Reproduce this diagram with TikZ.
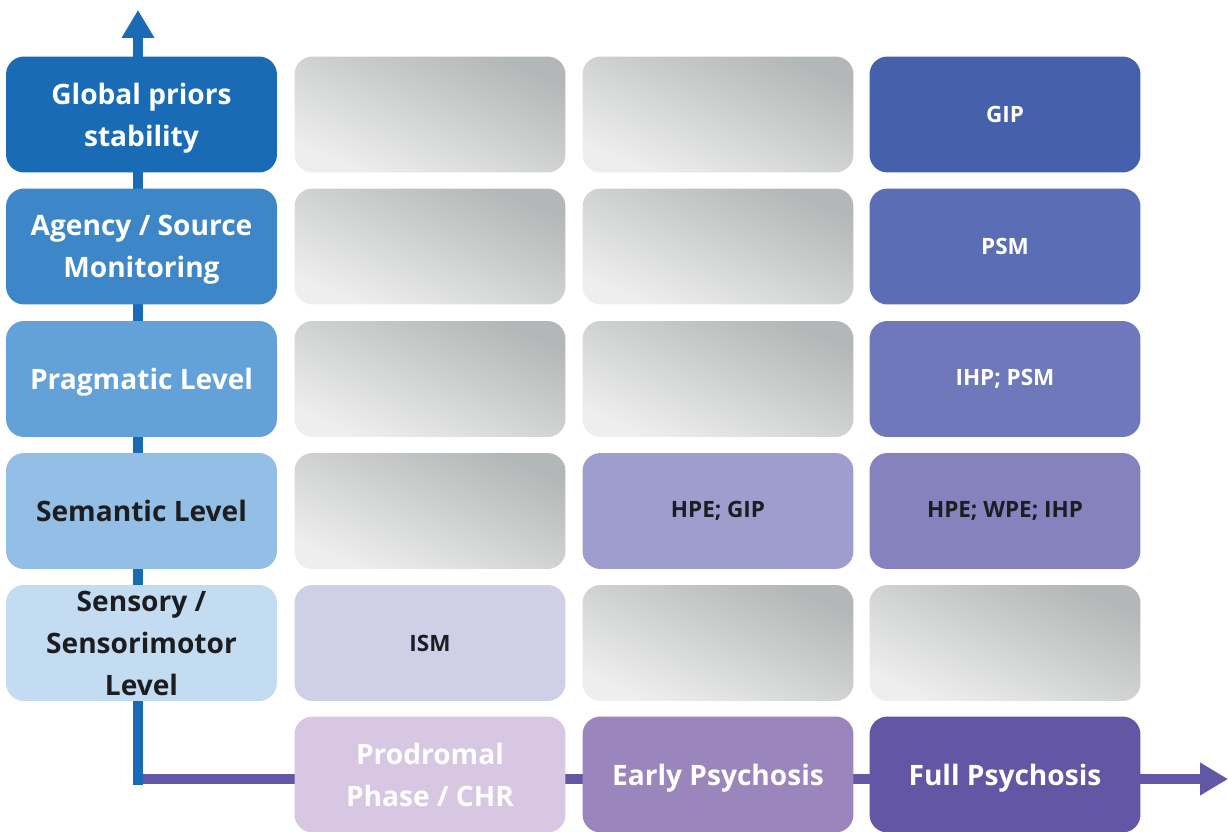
\documentclass[tikz,border=0pt]{standalone}
\usepackage{fontspec}
\setmainfont{Open Sans}
\usetikzlibrary{arrows.meta}

\definecolor{axisblue}{HTML}{1A6BB5}
\definecolor{axispurple}{HTML}{6257A5}
\definecolor{lvlA}{HTML}{1A6BB5}
\definecolor{lvlB}{HTML}{3D87C8}
\definecolor{lvlC}{HTML}{62A2D8}
\definecolor{lvlD}{HTML}{93BEE5}
\definecolor{lvlE}{HTML}{C3DCF1}
\definecolor{gipcol}{HTML}{4661AB}
\definecolor{psmcol}{HTML}{5A6DB5}
\definecolor{ihpcol}{HTML}{6F78BA}
\definecolor{wpecol}{HTML}{8682BE}
\definecolor{hpecol}{HTML}{9D9ECE}
\definecolor{ismcol}{HTML}{CFD0E8}
\definecolor{chrcol}{HTML}{D7C7E2}
\definecolor{earlycol}{HTML}{9A85BD}
\definecolor{fullcol}{HTML}{6357A5}
\definecolor{greydark}{HTML}{B4B7B7}
\definecolor{greylight}{HTML}{EEEEEE}
\definecolor{inkdark}{HTML}{1C1D21}

\begin{document}
\begin{tikzpicture}[
    x=0.02cm, y=-0.02cm,
    box/.style={
        rectangle,
        rounded corners=0.36cm,
        minimum width=5.42cm,
        minimum height=2.32cm,
        inner sep=0pt,
        align=center
    },
    level/.style={box, fill=#1, text depth=0pt, font=\fontsize{16}{24}\selectfont\bfseries},
    cell/.style={box, fill=#1, font=\fontsize{12.8}{15}\selectfont\bfseries},
    empty/.style={box, top color=greydark, bottom color=greylight, shading angle=-23},
    stage/.style={box, fill=#1, text=white, text depth=0pt, font=\fontsize{16}{24}\selectfont\bfseries},
    axis/.style={line width=0.2cm, -{Triangle[length=0.56cm,width=0.62cm]}}
]
\useasboundingbox (0,0) rectangle (1228,832);

% axes
\coordinate (origin) at (138,779);
\coordinate (corner) at (138,785);
\coordinate (ytip) at (138,10);
\coordinate (xtip) at (1228,779);
\draw[axis, axispurple] (origin) -- (xtip);
\draw[axis, axisblue] (corner) -- (ytip);

% levels (left column)
\node[level=lvlA, text=white] (global) at (141.5,114.5) {Global priors\\stability};
\node[level=lvlB, text=white] (agency) at (141.5,246.5) {Agency / Source\\Monitoring};
\node[level=lvlC, text=white] (pragmatic) at (141.5,379) {Pragmatic Level};
\node[level=lvlD, text=inkdark] (semantic) at (141.5,511) {Semantic Level};
\node[level=lvlE, text=inkdark] (sensory) at (141.5,643) {Sensory /\\Sensorimotor\\Level};

% prodromal column
\node[empty] (chr1) at (430,114.5) {};
\node[empty] (chr2) at (430,246.5) {};
\node[empty] (chr3) at (430,379) {};
\node[empty] (chr4) at (430,511) {};
\node[cell=ismcol, text=inkdark] (chr5) at (430,643) {ISM};

% early psychosis column
\node[empty] (early1) at (718,114.5) {};
\node[empty] (early2) at (718,246.5) {};
\node[empty] (early3) at (718,379) {};
\node[cell=hpecol, text=inkdark] (early4) at (718,511) {HPE; GIP};
\node[empty] (early5) at (718,643) {};

% full psychosis column
\node[cell=gipcol, text=white] (full1) at (1005,114.5) {GIP};
\node[cell=psmcol, text=white] (full2) at (1005,246.5) {PSM};
\node[cell=ihpcol, text=white] (full3) at (1005,379) {IHP; PSM};
\node[cell=wpecol, text=inkdark] (full4) at (1005,511) {HPE; WPE; IHP};
\node[empty] (full5) at (1005,643) {};

% stages along the time axis
\node[stage=chrcol] (prodromal) at (430,774.5) {Prodromal\\Phase / CHR};
\node[stage=earlycol] (earlypsy) at (718,774.5) {Early Psychosis};
\node[stage=fullcol] (fullpsy) at (1005,774.5) {Full Psychosis};

\end{tikzpicture}
\end{document}
